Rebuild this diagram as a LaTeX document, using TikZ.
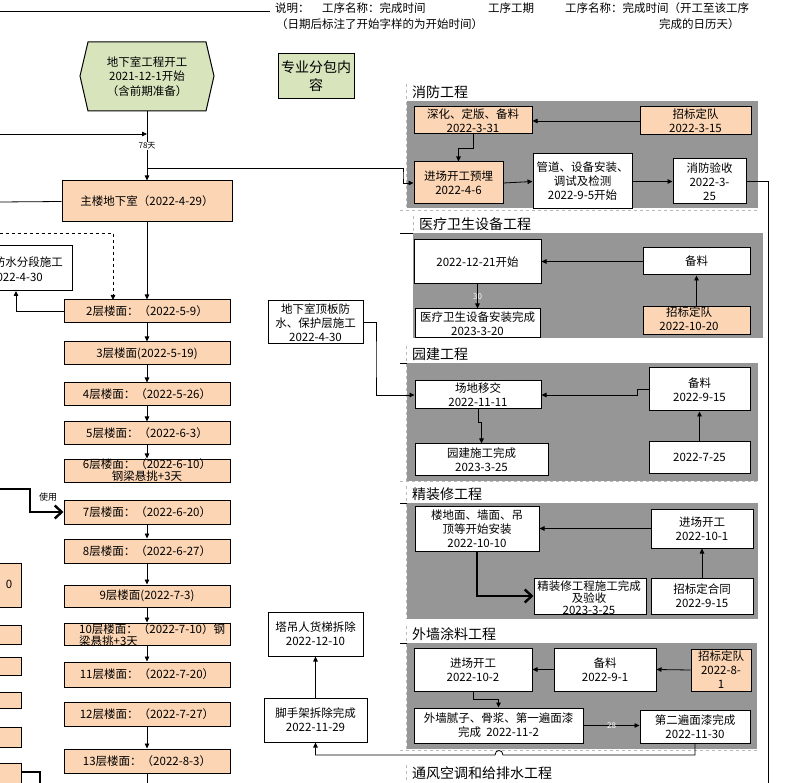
\documentclass[tikz,border=0pt]{standalone}
\usepackage{fontspec}
\setmainfont{Noto Sans CJK SC}
\usetikzlibrary{arrows.meta,calc}
\definecolor{peach}{RGB}{252,213,180}
\definecolor{lgreen}{RGB}{215,228,188}
\definecolor{sgray}{RGB}{150,150,150}
\tikzset{
 bx/.style={draw=black, line width=1pt, fill=white, inner sep=0pt},
 pbx/.style={bx, fill=peach},
 gbx/.style={bx, fill=lgreen},
 txt/.style={align=center, font=\fontsize{11.5}{14}\selectfont, inner sep=0pt},
 hdr/.style={anchor=west, inner sep=0pt, font=\fontsize{11.5}{13}\selectfont},
 conn/.style={line width=0.8pt, -{Triangle[length=5pt,width=4.5pt]}},
 plain/.style={line width=0.8pt},
 bigarr/.style={line width=2.6pt, -{Straight Barb[length=7pt,width=13pt,line width=2.4pt]}},
 sectitle/.style={anchor=west, font=\fontsize{14}{16}\selectfont, inner sep=0pt},
 frame/.style={draw=gray!55, dashed, line width=0.7pt},
 small/.style={font=\fontsize{8}{9}\selectfont, inner sep=1pt},
}
\newcommand\mkbox[7]{\node[#1, minimum width=#5pt, minimum height=#6pt] (#2) at (#3,#4) {};
 \node[txt] (#2t) at (#2.center) {#7};}
\begin{document}
\begin{tikzpicture}[x=1pt,y=-1pt]
\useasboundingbox (0,0) rectangle (790,783);
\clip (0,0) rectangle (790,783);
% header
\draw[plain] (0,11) -- (270,11);
\node[hdr] (hd1) at (275,8) {说明：};
\node[hdr] (hd2) at (322,8) {工序名称：完成时间};
\node[hdr] (hd3) at (488,8) {工序工期};
\node[hdr] (hd4) at (565,8) {工序名称：完成时间（开工至该工序};
\node[hdr] (hd5) at (276,24) {（日期后标注了开始字样的为开始时间）};
\node[hdr] (hd6) at (659,24) {完成的日历天）};
% section backgrounds
\fill[sgray] (407,101) rectangle (758,208);
\fill[sgray] (413,233) rectangle (763,338);
\fill[sgray] (407,363) rectangle (758,481);
\fill[sgray] (407,503) rectangle (758,619);
\fill[sgray] (407,643) rectangle (757,749);
\draw[frame] (406,84) -- (406,208);
\draw[frame] (400,210) -- (760,210);
\draw[frame] (413,216) -- (413,233);
\draw[frame] (406,346) -- (406,481);
\draw[frame] (400,481) -- (760,481);
\draw[frame] (406,486) -- (406,619);
\draw[frame] (406,626) -- (406,749);
\draw[frame] (400,750) -- (760,750);
\draw[frame] (406,765) -- (406,781);
\draw[plain] (400,233) -- (413,233);
\draw[plain] (400,363) -- (407,363);
\draw[plain] (400,503) -- (407,503);
\draw[plain] (400,643) -- (407,643);
\node[sectitle] (s1) at (412,92) {消防工程};
\node[sectitle] (s2) at (419,224) {医疗卫生设备工程};
\node[sectitle] (s3) at (412,354) {园建工程};
\node[sectitle] (s4) at (412,494) {精装修工程};
\node[sectitle] (s5) at (412,634) {外墙涂料工程};
\node[sectitle] (s6) at (412,773) {通风空调和给排水工程};
% hexagon start
\node[minimum width=134pt, minimum height=69pt, inner sep=0pt] (hex) at (147,76.5) {};
\filldraw[fill=lgreen, line width=1pt] (80,76) -- (88,42) -- (206,42) -- (214,76) -- (206,111) -- (88,111) -- cycle;
\node[txt, font=\fontsize{11.5}{14.5}\selectfont] (hext) at (hex.center) {地下室工程开工\\2021-12-1开始\\（含前期准备）};
\node[gbx, minimum width=76pt, minimum height=45pt] (zy) at (316,76.5) {};
\node[txt, font=\fontsize{14}{18}\selectfont] (zyt) at (zy.center) {专业分包内\\容};
% left column
\mkbox{pbx}{main}{147}{201.5}{170}{41}{主楼地下室（2022-4-29）}
\mkbox{pbx}{f2}{147}{311.5}{166}{23}{2层楼面：（2022-5-9）}
\mkbox{pbx}{f3}{147}{353.5}{166}{23}{3层楼面(2022-5-19)}
\mkbox{pbx}{f4}{147}{394.5}{166}{23}{4层楼面：（2022-5-26）}
\mkbox{pbx}{f5}{147}{433.5}{166}{23}{5层楼面：（2022-6-3）}
\mkbox{pbx}{f6}{147}{470.5}{166}{23}{}
\node[txt, font=\fontsize{11.5}{12}\selectfont] (f6x) at (147,470.5) {6层楼面：（2022-6-10）\\钢梁悬挑+3天};
\mkbox{pbx}{f7}{147}{512}{166}{24}{7层楼面：（2022-6-20）}
\mkbox{pbx}{f8}{147}{551}{166}{24}{8层楼面：（2022-6-27）}
\mkbox{pbx}{f9}{147}{596}{166}{22}{9层楼面(2022-7-3)}
\mkbox{pbx}{f10}{147}{634}{166}{22}{}
\node[txt, align=left, anchor=west, font=\fontsize{11.5}{11.5}\selectfont] (f10x) at (79,635) {10层楼面：（2022-7-10）钢\\梁悬挑+3天};
\mkbox{pbx}{f11}{147}{674.5}{166}{25}{11层楼面：（2022-7-20）}
\mkbox{pbx}{f12}{147}{714}{166}{24}{12层楼面：（2022-7-27）}
\mkbox{pbx}{f13}{147}{761}{166}{24}{13层楼面：（2022-8-3）}
% left cut boxes
\mkbox{bx}{fs}{6}{268.5}{132}{45}{}
\node[txt, anchor=east] (fs1) at (63,262) {防水分段施工};
\node[txt, anchor=east] (fs2) at (43,277) {2022-4-30};
\mkbox{pbx}{lb1}{-19.5}{585}{81}{44}{}
\node[txt] (lb1x) at (9,584) {0};
\mkbox{pbx}{lb2}{-19.5}{634.5}{81}{19}{}
\mkbox{pbx}{lb3}{-19.5}{666}{81}{18}{}
\mkbox{pbx}{lb4}{-19.5}{700}{81}{16}{}
\mkbox{pbx}{lb5}{-19.5}{737}{81}{20}{}
\mkbox{pbx}{lb6}{-19.5}{777}{81}{28}{}
% middle column
\mkbox{bx}{dbd}{315.5}{322.5}{95}{43}{地下室顶板防\\水、保护层施工\\2022-4-30}
\mkbox{bx}{td}{315.5}{634}{95}{44}{塔吊人货梯拆除\\2022-12-10}
\mkbox{bx}{jsj}{315.5}{720}{103}{44}{脚手架拆除完成\\2022-11-29}
% S1
\mkbox{pbx}{shb}{473}{120.5}{118}{27}{深化、定版、备料\\2022-3-31}
\mkbox{pbx}{zb1}{695.5}{121}{111}{28}{招标定队\\2022-3-15}
\mkbox{pbx}{fjc}{458.5}{183}{89}{42}{进场开工预埋\\2022-4-6}
\mkbox{bx}{gd}{582.5}{181.5}{99}{55}{管道、设备安装、\\调试及检测\\2022-9-5开始}
\mkbox{bx}{xfys}{709.5}{181.5}{73}{45}{消防验收\\2022-3-\\25}
% S2
\mkbox{bx}{ks}{477.5}{262}{127}{44}{2022-12-21开始}
\mkbox{bx}{bl2}{696.5}{261.5}{107}{27}{备料}
\mkbox{pbx}{zb2}{696.5}{321}{107}{28}{}
\node[txt] (zb2x) at (689,319) {招标定队\\2022-10-20};
\mkbox{bx}{ylwc}{477.5}{323.5}{125}{29}{医疗卫生设备安装完成\\2023-3-20}
% S3
\mkbox{bx}{cdyj}{478}{395}{126}{28}{场地移交\\2022-11-11}
\mkbox{bx}{bl3}{699.5}{389.5}{101}{43}{备料\\2022-9-15}
\mkbox{bx}{ywc}{481.5}{459.5}{133}{31}{园建施工完成\\2023-3-25}
\mkbox{bx}{d725}{699.5}{457.5}{101}{31}{2022-7-25}
% S4
\mkbox{bx}{ldm}{477}{528.5}{124}{45}{楼地面、墙面、吊\\顶等开始安装\\2022-10-10}
\mkbox{bx}{jc4}{702}{528.5}{102}{39}{进场开工\\2022-10-1}
\mkbox{bx}{jzwc}{590}{596}{112}{36}{}
\node[txt, font=\fontsize{11.5}{12}\selectfont] (jzwcx) at (589,598) {精装修工程施工完成\\及验收\\2023-3-25};
\mkbox{bx}{htb}{702}{596}{102}{36}{招标定合同\\2022-9-15}
% S5
\mkbox{bx}{jc5}{473}{669.5}{118}{43}{进场开工\\2022-10-2}
\mkbox{bx}{bl5}{605}{669.5}{102}{43}{备料\\2022-9-1}
\mkbox{pbx}{zb5}{721}{670}{60}{42}{招标定队\\2022-8-\\1}
\mkbox{bx}{nz}{498.5}{725.5}{169}{35}{外墙腻子、骨浆、第一遍面漆\\完成 \ 2022-11-2}
\mkbox{bx}{dr}{695}{726.5}{110}{33}{第二遍面漆完成\\2022-11-30}
% connectors left
\coordinate (inL) at (0,134);
\coordinate (j1) at (147,134);
\draw[conn] (inL) -- (j1);
\draw[conn] (hex.south) -- (main.north);
\node[small, fill=white] (d78) at (147,146) {78天};
\coordinate (j2) at (147,168);
\coordinate (k0) at (403,175);
\draw[conn] (j2) -| (k0) |- (fjc.west);
\coordinate (inM) at (0,202);
\draw[plain] (inM) -- (main.west);
\coordinate (dA) at (0,233);
\coordinate (dB) at (113,300);
\draw[conn, dashed] (dA) -| (dB);
\coordinate (fsb) at (16,291);
\draw[conn] (f2.west) -| (fsb);
\foreach \a/\b in {main/f2,f2/f3,f3/f4,f4/f5,f5/f6,f7/f8,f8/f9,f9/f10,f10/f11,f12/f13}
  \draw[conn] (\a.south) -- (\b.north);
\coordinate (f13e) at (147,790);
\draw[plain] (f13.south) -- (f13e);
\coordinate (uA) at (0,489);
\coordinate (uB) at (30,500);
\draw[bigarr] (uA) -| (uB) |- (f7.west);
\node[font=\fontsize{9}{10}\selectfont, inner sep=0pt] (use) at (48,497) {使用};
\coordinate (tS) at (21,772);
\coordinate (tA) at (40,790);
\draw[line width=2.5pt] (tS) -| (tA);
% middle connectors
\coordinate (k1) at (376,360);
\draw[conn] (dbd.east) -| (k1) |- (cdyj.west);
\draw[conn] (jsj.north) -- (td.south);
\coordinate (r1) at (695,755);
\coordinate (hA) at (503,755);
\coordinate (hB) at (495,755);
\coordinate (r2) at (315.5,755);
\draw[conn] (dr.south) -- (r1) -- (hA) .. controls (503,749) and (495,749) .. (hB) -- (r2) -- (jsj.south);
\coordinate (v1) at (768,181.5);
\coordinate (v2) at (768,790);
\draw[plain] (xfys.east) -- (v1) -- (v2);
% S1
\draw[conn] (zb1.west) -- (zb1.west -| shb.east);
\draw[conn] (shb.south) -- ++(0,14) -| (fjc.north);
\draw[conn] (fjc.east) -- (gd.west);
\draw[conn] (gd.east) -- (xfys.west);
% S2
\draw[conn] (bl2.west) -- (bl2.west -| ks.east);
\draw[conn] (zb2.north) -- (bl2.south);
\draw[conn] (ks.south) -- (ylwc.north) node[midway, small, text=white] (l30) {30};
% S3
\draw[conn] (bl3.west) -- ++(-11,0) |- (cdyj.east);
\draw[conn] (cdyj.south) -- ++(0,13) -| (ywc.north);
\draw[conn] (d725.north) -- (bl3.south);
% S4
\draw[conn] (jc4.west) -- (ldm.east);
\draw[conn] (htb.north) -- (jc4.south);
\draw[bigarr] (ldm.south) |- (jzwc.west);
% S5
\draw[conn] (zb5.west) -- (bl5.east);
\draw[conn] (bl5.west) -- (jc5.east);
\draw[conn] (jc5.south) -- ++(0,8) -| (nz.north);
\draw[conn] (nz.east) -- (nz.east -| dr.west) node[midway, small, text=white] (l28) {28};
\end{tikzpicture}
\end{document}
